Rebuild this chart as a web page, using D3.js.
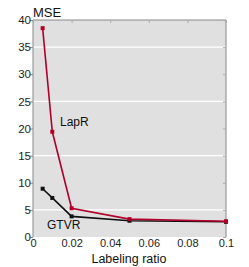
<!DOCTYPE html>
<html><head><meta charset="utf-8">
<script src="https://cdn.jsdelivr.net/npm/d3@7"></script>
<style>body{margin:0;background:#fff}svg{display:block;font-family:"Liberation Sans",Arial,sans-serif}</style>
</head><body><svg id="c" width="249" height="267"></svg>
<script>
const ratios = [0.005, 0.01, 0.02, 0.05, 0.1];
const lapR = [38.5, 19.4, 5.3, 3.3, 2.9];
const gtvR = [8.9, 7.2, 3.8, 3.0, 2.8];
const xTicks = [0, 0.02, 0.04, 0.06, 0.08, 0.1];
const xTickLabels = ["0", "0.02", "0.04", "0.06", "0.08", "0.1"];
const yTicks = [0, 5, 10, 15, 20, 25, 30, 35, 40];
const gridVals = [5, 15, 25, 35];

const svg = d3.select("#c");
const L = 33, R = 226, T = 20, B = 237;
const x = d3.scaleLinear().domain([0, 0.1]).range([L, R]);
const y = d3.scaleLinear().domain([0, 40]).range([B, T]);

svg.append("rect").attr("x", L).attr("y", T).attr("width", R - L).attr("height", B - T).attr("fill", "#e0e0e0");
svg.selectAll(".grid").data(gridVals).enter().append("line")
  .attr("x1", L).attr("x2", R).attr("y1", d => y(d)).attr("y2", d => y(d))
  .attr("stroke", "#fff").attr("stroke-width", 1.2);

svg.append("line").attr("x1", L).attr("x2", L).attr("y1", T).attr("y2", B).attr("stroke", "#888");
svg.append("line").attr("x1", R).attr("x2", R).attr("y1", T).attr("y2", B).attr("stroke", "#888");
svg.append("line").attr("x1", L).attr("x2", R).attr("y1", T).attr("y2", T).attr("stroke", "#888");

const yAxis = d3.axisLeft(y).tickValues(yTicks).tickSize(3).tickFormat(d3.format("d"));
const gy = svg.append("g").attr("transform", `translate(${L},0)`).call(yAxis);
gy.select(".domain").remove();
gy.selectAll("line").attr("stroke", "#888");
gy.selectAll("text").attr("font-size", 11.5).attr("fill", "#222").attr("x", -2).attr("font-family", "Liberation Sans, Arial, sans-serif");

const gyr = svg.append("g").attr("transform", `translate(${R},0)`).call(d3.axisLeft(y).tickValues(yTicks).tickSize(3).tickFormat(""));
gyr.select(".domain").remove();
gyr.selectAll("line").attr("stroke", "#aaa");

const xAxis = d3.axisBottom(x).tickValues(xTicks).tickSize(0).tickFormat((d, i) => xTickLabels[i]);
const gx = svg.append("g").attr("transform", `translate(0,${B})`).call(xAxis);
gx.select(".domain").remove();
gx.selectAll("text").attr("font-size", 11).attr("fill", "#222").attr("y", 1).attr("dy", "0.8em").attr("font-family", "Liberation Sans, Arial, sans-serif");

const gxt = svg.append("g").attr("transform", `translate(0,${T})`).call(d3.axisBottom(x).tickValues(xTicks).tickSize(3).tickFormat(""));
gxt.select(".domain").remove();
gxt.selectAll("line").attr("stroke", "#aaa");

const line = d3.line().x((d, i) => x(ratios[i])).y(d => y(d));
function series(vals, color) {
  svg.append("path").datum(vals).attr("d", line).attr("fill", "none").attr("stroke", color).attr("stroke-width", 1.6);
  svg.selectAll(null).data(vals).enter().append("rect")
    .attr("x", (d, i) => x(ratios[i]) - 2).attr("y", d => y(d) - 2)
    .attr("width", 4).attr("height", 4).attr("fill", color);
}
series(gtvR, "#111");
series(lapR, "#b0002a");

svg.append("text").attr("x", 33).attr("y", 17).attr("font-size", 13).attr("fill", "#111").text("MSE");
svg.append("text").attr("x", 60).attr("y", 126).attr("font-size", 12).attr("fill", "#111").text("LapR");
svg.append("text").attr("x", 47).attr("y", 229).attr("font-size", 12).attr("fill", "#111").text("GTVR");
svg.append("text").attr("x", 129).attr("y", 263).attr("text-anchor", "middle").attr("font-size", 12.5).attr("fill", "#111").text("Labeling ratio");
</script></body></html>
